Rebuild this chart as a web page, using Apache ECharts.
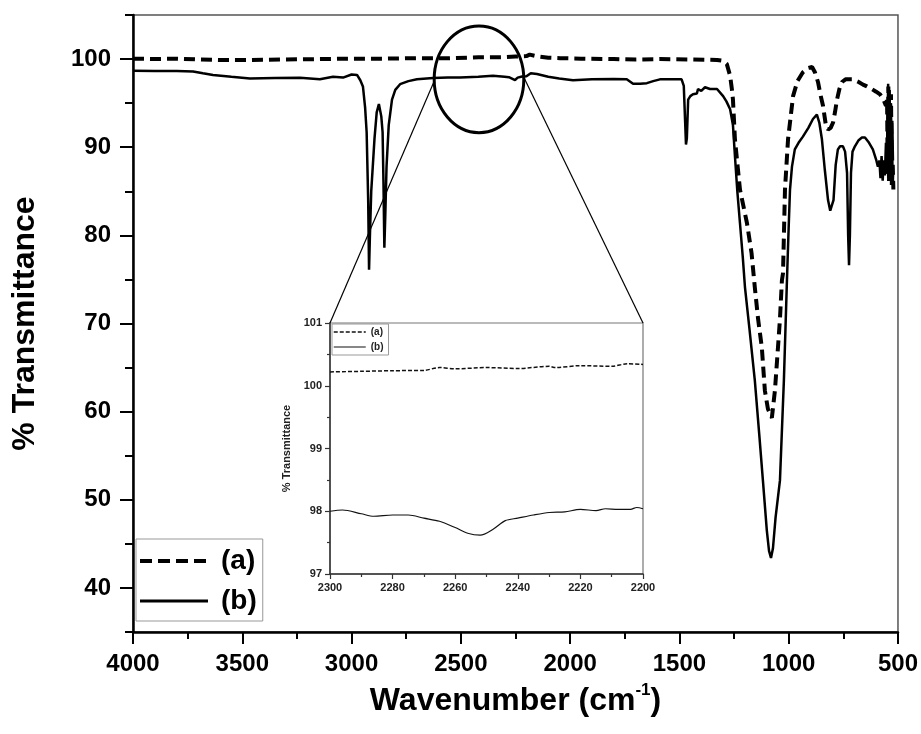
<!DOCTYPE html>
<html>
<head>
<meta charset="utf-8">
<script src="https://cdn.jsdelivr.net/npm/echarts@6/dist/echarts.min.js"></script>
<style>
  html, body { margin: 0; padding: 0; background: #fff; }
  #chart { width: 921px; height: 734px; }
</style>
</head>
<body>
<div id="chart"></div>
<script>
const FONT = '"Liberation Sans", Arial, Helvetica, sans-serif';

// Spectrum (a): wavenumber (cm-1) and % transmittance
const waveA = [4000, 3900, 3800, 3700, 3600, 3465, 3300, 3150, 3000, 2850, 2700, 2560, 2420, 2300, 2250, 2200,
  2185, 2150, 2100, 2046, 1950, 1800, 1700, 1589, 1450, 1328, 1300, 1283, 1268, 1260, 1255, 1246, 1223, 1191,
  1170, 1155, 1140, 1123, 1109, 1095, 1077, 1063, 1049, 1040, 1031, 1026, 1017, 1003, 980, 960, 935, 910, 893,
  880, 866, 855, 843, 830, 820, 808, 797, 788, 779, 768, 756, 740, 720, 706, 680, 660, 642, 620, 600, 582, 565,
  555, 550, 547, 544, 541, 538, 535, 532, 528, 524, 521];
const transA = [100.05, 100.0, 100.05, 99.95, 99.9, 99.9, 99.95, 100.0, 100.05, 100.05, 100.1, 100.1, 100.2, 100.22, 100.29, 100.34,
  100.5, 100.3, 100.15, 100.1, 100.05, 100.0, 99.95, 100.0, 99.95, 99.9, 99.8, 99.43, 98.1, 96.6, 95.4, 90.9, 85.2, 81.4,
  78.0, 74.1, 70.5, 67.3, 62.4, 60.3, 59.3, 62.4, 67.3, 70.5, 74.9, 75.7, 85.2, 90.9, 95.8, 97.5, 98.5, 99.0, 99.1,
  98.5, 97.4, 96.0, 94.7, 92.5, 92.0, 92.2, 92.8, 94.0, 95.4, 96.6, 97.4, 97.7, 97.7, 97.7, 97.4, 97.1, 96.9, 96.6, 96.3, 96.0, 95.3,
  94.7, 95.5, 87.0, 96.9, 86.0, 95.0, 89.0, 96.0, 85.5, 88.0, 85.2];

// Spectrum (b)
const waveB = [4000, 3900, 3800, 3725, 3680, 3634, 3550, 3465, 3350, 3236, 3145, 3085, 3039, 3000, 2975, 2960,
  2948, 2938, 2931, 2924, 2920, 2916, 2910, 2903, 2895, 2885, 2875, 2870, 2864, 2858, 2854, 2850, 2846, 2840,
  2830, 2815, 2800, 2778, 2740, 2701, 2627, 2560, 2504, 2420, 2353, 2300, 2280, 2252, 2240, 2220, 2200, 2180,
  2152, 2100, 2050, 1987, 1900, 1800, 1741, 1712, 1680, 1649, 1620, 1589, 1540, 1490, 1480, 1474, 1470, 1466,
  1460, 1450, 1438, 1420, 1415, 1400, 1383, 1360, 1328, 1300, 1285, 1268, 1255, 1246, 1235, 1223, 1210, 1200,
  1180, 1155, 1135, 1118, 1100, 1090, 1081, 1072, 1060, 1040, 1022, 1008, 1000, 994, 985, 972, 955, 935, 910,
  889, 871, 860, 848, 835, 820, 810, 802, 795, 785, 775, 765, 752, 742, 733, 728, 724, 720, 715, 708, 697, 680,
  665, 651, 635, 615, 600, 592, 585, 580, 575, 570, 565, 560, 555, 552, 548, 545, 542, 538, 535, 532, 529, 526, 523];
const transB = [98.67, 98.65, 98.65, 98.6, 98.4, 98.2, 98.0, 97.8, 97.85, 97.87, 97.72, 98.0, 97.9, 98.25, 98.2, 97.6,
  96.9, 94.5, 91.7, 84.0, 76.1, 80.0, 85.0, 87.8, 91.0, 93.96, 94.9, 95.0, 93.5, 91.7, 86.0, 78.6, 82.0, 87.8,
  92.5, 95.4, 96.5, 97.15, 97.5, 97.7, 97.84, 97.9, 97.9, 98.0, 98.1, 98.0, 97.94, 97.62, 97.89, 98.03, 98.04, 98.4,
  98.3, 98.0, 97.8, 97.6, 97.7, 97.75, 97.72, 97.2, 97.2, 97.27, 97.5, 97.7, 97.72, 97.7, 96.96, 93.0, 90.3, 91.0,
  95.4, 95.8, 96.0, 96.1, 96.6, 96.4, 96.8, 96.6, 96.6, 95.8, 95.2, 94.3, 92.5, 89.0, 85.0, 81.4, 77.5, 74.1,
  69.5, 63.55, 57.5, 52.2, 46.5, 44.2, 43.4, 44.5, 48.0, 52.2, 63.55, 74.9, 81.0, 85.2, 87.8, 89.75, 90.5, 91.2, 92.2,
  93.2, 93.7, 92.8, 90.9, 87.5, 84.0, 82.8, 82.6, 84.0, 88.0, 89.75, 90.1, 90.1, 89.5, 87.1, 80.0, 76.6, 80.0, 87.1, 89.5, 90.1, 90.8,
  91.1, 91.1, 90.6, 89.75, 88.6, 87.8, 88.5, 86.5, 89.0, 86.2, 88.5, 86.8, 90.5, 87.0, 92.0, 97.2, 88.0, 96.5, 86.5, 95.0, 87.5, 93.0, 88.5];

// Magnified region 2300–2200 cm-1
const zoomWaveA = [2300, 2290, 2280, 2270, 2265, 2260, 2250, 2240, 2230, 2228, 2220, 2210, 2205, 2200];
const zoomTransA = [100.22, 100.23, 100.24, 100.245, 100.29, 100.27, 100.29, 100.275, 100.31, 100.29, 100.32, 100.31, 100.35, 100.34];
const zoomWaveB = [2300, 2296, 2290, 2286, 2280, 2275, 2270, 2265, 2260, 2256, 2252, 2248, 2244, 2240, 2235,
  2230, 2225, 2220, 2215, 2212, 2208, 2204, 2202, 2200];
const zoomTransB = [98.0, 98.02, 97.96, 97.92, 97.94, 97.94, 97.89, 97.84, 97.74, 97.65, 97.62, 97.71, 97.85, 97.89, 97.94,
  97.98, 97.99, 98.03, 98.01, 98.04, 98.03, 98.03, 98.06, 98.04];

const majorTicksY = [40, 50, 60, 70, 80, 90, 100];

const pairs = (xs, ys) => xs.map((x, i) => [x, ys[i]]);
const plain = (v) => String(v);

const chart = echarts.init(document.getElementById('chart'), null, { renderer: 'canvas' });

const labelBold = (size) => ({ color: '#000', fontFamily: FONT, fontWeight: 'bold', fontSize: size });

chart.setOption({
  backgroundColor: '#fff',
  animation: false,
  textStyle: { fontFamily: FONT },
  grid: [
    { left: 133, top: 15, right: 23, bottom: 102, show: true, borderColor: '#555', borderWidth: 1.5, backgroundColor: 'transparent' },
    { left: 330, top: 323, width: 313, height: 251, show: true, borderColor: '#777', borderWidth: 1.2, backgroundColor: 'transparent' }
  ],
  xAxis: [
    {
      gridIndex: 0, type: 'value', min: 500, max: 4000, interval: 500, inverse: true,
      axisLine: { lineStyle: { color: '#000', width: 2.5 } },
      axisTick: { length: 12, lineStyle: { color: '#000', width: 2 } },
      minorTick: { show: true, splitNumber: 2, length: 7, lineStyle: { color: '#000', width: 2 } },
      axisLabel: Object.assign(labelBold(24), { margin: 20, showMinLabel: true, showMaxLabel: true, formatter: plain }),
      splitLine: { show: false },
      name: '{t|Wavenumber (cm}{s|-1}{t|)}',
      nameLocation: 'middle', nameGap: 50,
      nameTextStyle: {
        rich: {
          t: { fontFamily: FONT, fontWeight: 'bold', fontSize: 32, color: '#000', lineHeight: 38 },
          s: { fontFamily: FONT, fontWeight: 'bold', fontSize: 17, color: '#000', lineHeight: 38, verticalAlign: 'top' }
        }
      }
    },
    {
      gridIndex: 1, type: 'value', min: 2200, max: 2300, interval: 20, inverse: true,
      axisLine: { lineStyle: { color: '#333', width: 1.5 } },
      axisTick: { length: 5, lineStyle: { color: '#333', width: 1.2 } },
      minorTick: { show: true, splitNumber: 2, length: 3, lineStyle: { color: '#333', width: 1.2 } },
      axisLabel: Object.assign(labelBold(11), { margin: 8, color: '#222', showMinLabel: true, showMaxLabel: true, formatter: plain }),
      splitLine: { show: false }
    }
  ],
  yAxis: [
    {
      gridIndex: 0, type: 'value', min: 35, max: 105, interval: 5, position: 'left',
      axisLine: { lineStyle: { color: '#000', width: 2.5 } },
      axisTick: { length: 13, customValues: majorTicksY, lineStyle: { color: '#000', width: 2 } },
      axisLabel: Object.assign(labelBold(24), {
        margin: 22,
        formatter: (v) => (majorTicksY.indexOf(v) >= 0 ? String(v) : '')
      }),
      splitLine: { show: false },
      name: '% Transmittance', nameLocation: 'middle', nameGap: 92,
      nameTextStyle: labelBold(32)
    },
    {
      gridIndex: 0, type: 'value', min: 35, max: 105, interval: 5, position: 'left', offset: 0,
      axisLine: { show: false },
      axisTick: { length: 8, lineStyle: { color: '#000', width: 2 } },
      axisLabel: { show: false },
      splitLine: { show: false }
    },
    {
      gridIndex: 1, type: 'value', min: 97, max: 101, interval: 1,
      axisLine: { lineStyle: { color: '#333', width: 1.5 } },
      axisTick: { length: 5, lineStyle: { color: '#333', width: 1.2 } },
      minorTick: { show: true, splitNumber: 2, length: 3, lineStyle: { color: '#333', width: 1.2 } },
      axisLabel: Object.assign(labelBold(11), { margin: 8, color: '#222' }),
      splitLine: { show: false },
      name: '% Transmittance', nameLocation: 'middle', nameGap: 38,
      nameTextStyle: Object.assign(labelBold(11), { color: '#222' })
    }
  ],
  legend: [
    {
      data: [
        { name: '(a)', lineStyle: { width: 4, type: [12, 6], color: '#000' } },
        { name: '(b)', lineStyle: { width: 3, type: 'solid', color: '#000' } }
      ],
      orient: 'vertical', left: 136, top: 539,
      itemWidth: 68, itemHeight: 14, itemGap: 12,
      selectedMode: false,
      itemStyle: { opacity: 0, borderWidth: 0 },
      textStyle: Object.assign(labelBold(28), { padding: [0, 0, 0, 8] }),
      borderColor: '#999', borderWidth: 1, padding: [8, 6, 6, 2]
    },
    {
      data: [
        { name: '(a)', lineStyle: { width: 1.5, type: [4, 2], color: '#111' } },
        { name: '(b)', lineStyle: { width: 1.2, type: 'solid', color: '#111' } }
      ],
      orient: 'vertical', left: 332, top: 324,
      itemWidth: 32, itemHeight: 8, itemGap: 5,
      selectedMode: false,
      itemStyle: { opacity: 0, borderWidth: 0 },
      textStyle: Object.assign(labelBold(10), { color: '#222' }),
      borderColor: '#999', borderWidth: 1, padding: [3, 5, 3, 1]
    }
  ],
  series: [
    {
      name: '(a)', type: 'line', xAxisIndex: 0, yAxisIndex: 0,
      data: pairs(waveA, transA), symbol: 'none', showSymbol: false,
      lineStyle: { color: '#000', width: 4, type: [11, 6] }, itemStyle: { color: '#000' }, z: 3
    },
    {
      name: '(b)', type: 'line', xAxisIndex: 0, yAxisIndex: 0,
      data: pairs(waveB, transB), symbol: 'none', showSymbol: false,
      lineStyle: { color: '#000', width: 2.5, type: 'solid' }, itemStyle: { color: '#000' }, z: 3
    },
    {
      name: '(a)', type: 'line', xAxisIndex: 1, yAxisIndex: 2,
      data: pairs(zoomWaveA, zoomTransA), symbol: 'none', showSymbol: false, smooth: 0.3,
      lineStyle: { color: '#111', width: 1.5, type: [4, 2] }, itemStyle: { color: '#111' }
    },
    {
      name: '(b)', type: 'line', xAxisIndex: 1, yAxisIndex: 2,
      data: pairs(zoomWaveB, zoomTransB), symbol: 'none', showSymbol: false, smooth: 0.3,
      lineStyle: { color: '#111', width: 1.2 }, itemStyle: { color: '#111' }
    }
  ]
});

// Magnifier ring around 2300–2200 cm-1 and connector lines to the inset
const ringCenter = chart.convertToPixel({ gridIndex: 0 }, [2417, 97.7]);
const ringEdge = chart.convertToPixel({ gridIndex: 0 }, [2212, 103.75]);
const rx = ringEdge[0] - ringCenter[0];
const ry = ringCenter[1] - ringEdge[1];
const insetLeft = chart.convertToPixel({ gridIndex: 1 }, [2300, 101]);
const insetRight = chart.convertToPixel({ gridIndex: 1 }, [2200, 101]);

chart.setOption({
  graphic: [
    {
      type: 'ellipse', z: 10,
      shape: { cx: ringCenter[0], cy: ringCenter[1], rx: rx, ry: ry },
      style: { fill: 'none', stroke: '#000', lineWidth: 3 }
    },
    {
      type: 'line', z: 10,
      shape: { x1: ringCenter[0] - rx, y1: ringCenter[1] + 2, x2: insetLeft[0], y2: insetLeft[1] },
      style: { stroke: '#000', lineWidth: 1.2 }
    },
    {
      type: 'line', z: 10,
      shape: { x1: ringCenter[0] + rx, y1: ringCenter[1] - 2, x2: insetRight[0], y2: insetRight[1] },
      style: { stroke: '#000', lineWidth: 1.2 }
    }
  ]
});
</script>
</body>
</html>
